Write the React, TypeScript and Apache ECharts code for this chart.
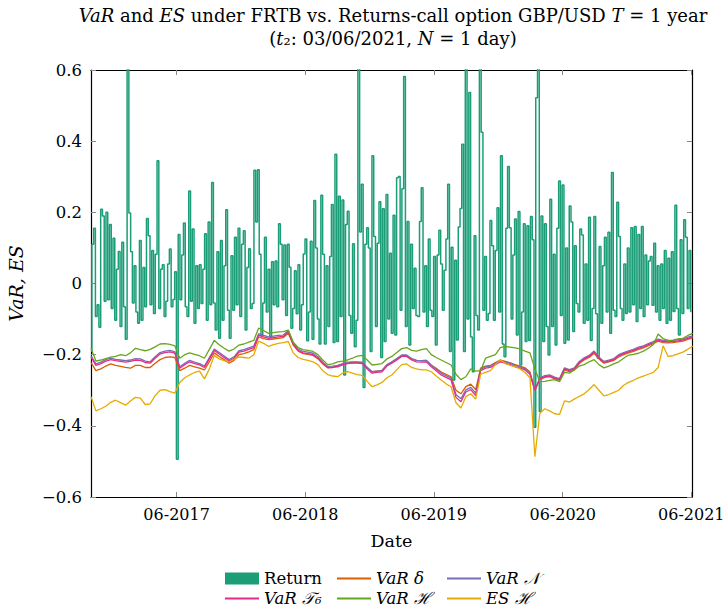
import React, { useEffect, useRef } from 'react';
import * as echarts from 'echarts';

const START = Date.UTC(2016, 9, 1);
const END = Date.UTC(2021, 5, 3);
const DAY = 86400000;
const RETURN_STEP_DAYS = 5;
const VAR_STEP_DAYS = 14;
const TICK_DATES = ['2017-06-01', '2018-06-01', '2019-06-01', '2020-06-01', '2021-06-01'];

const SERIES_NAMES = ['Return', 'VaR δ', 'VaR 𝒩', 'VaR 𝒯₆', 'VaR ℋ', 'ES ℋ'];
const COLORS = ['#1b9e77', '#d95f02', '#7570b3', '#e7298a', '#66a61e', '#e6ab02'];

// daily returns sampled every 5 days
const returns = [
  -0.19, 0.11, 0.155, -0.093, -0.06, -0.123, 0.209, 0.19, -0.05, 0.2,
  -0.046, 0.166, -0.07, 0.127, -0.103, 0.04, 0.09, -0.121, 0.116, -0.065,
  -0.157, 0.65, 0.198, 0.089, -0.055, 0.05, -0.08, -0.112, 0.121, -0.103,
  0.045, -0.065, 0.183, 0.134, -0.06, 0.093, -0.084, 0.082, 0.345, -0.07,
  0.04, 0.053, -0.093, -0.05, 0.055, 0.097, -0.065, -0.045, 0.033, -0.494,
  0.138, -0.046, 0.08, 0.17, -0.065, -0.093, 0.26, -0.05, 0.153, -0.112,
  0.05, -0.07, 0.053, -0.056, 0.04, 0.14, -0.103, 0.173, -0.06, 0.284,
  -0.055, -0.131, 0.089, -0.154, 0.121, -0.103, 0.05, 0.207, -0.075, -0.154,
  0.078, -0.075, 0.13, -0.06, 0.155, -0.093, 0.11, 0.148, -0.131, 0.045,
  0.098, -0.07, -0.056, 0.318, 0.173, 0.32, 0.082, -0.147, -0.055, 0.13,
  -0.08, 0.04, -0.151, 0.061, -0.06, 0.063, -0.065, 0.168, 0.11, -0.046,
  0.108, -0.09, 0.11, 0.046, -0.126, -0.07, 0.036, -0.085, 0.053, -0.131,
  -0.06, 0.083, 0.125, -0.161, -0.08, 0.119, -0.157, 0.233, 0.1, -0.1,
  -0.17, 0.248, 0.082, -0.17, 0.05, -0.121, 0.076, 0.222, -0.166, 0.363,
  -0.163, 0.245, -0.093, 0.235, -0.257, 0.166, 0.203, -0.09, -0.14, 0.112,
  -0.178, -0.103, 0.65, 0.145, 0.279, -0.292, 0.11, 0.157, 0.1, -0.191,
  0.359, 0.132, -0.121, 0.113, 0.23, -0.208, 0.21, -0.163, 0.25, -0.1,
  0.085, -0.14, 0.192, -0.145, 0.297, 0.301, -0.075, 0.266, 0.582, -0.121,
  0.174, -0.173, 0.11, -0.07, 0.043, -0.09, -0.093, 0.174, 0.269, -0.08,
  0.05, -0.121, 0.125, -0.075, -0.093, 0.076, -0.173, 0.08, 0.15, 0.055,
  -0.075, 0.037, 0.125, 0.279, -0.191, 0.102, -0.271, 0.065, -0.159, 0.159,
  0.211, 0.391, -0.191, 0.65, -0.1, 0.537, -0.15, -0.248, 0.134, -0.09,
  -0.131, 0.65, 0.425, -0.075, 0.076, -0.103, -0.084, 0.177, 0.106, -0.103,
  0.093, 0.213, -0.08, 0.359, -0.17, -0.206, 0.155, 0.329, 0.157, -0.1,
  0.08, 0.181, -0.145, 0.202, -0.229, -0.08, 0.168, -0.163, 0.162, -0.16,
  0.188, 0.123, -0.404, 0.522, 0.65, -0.36, 0.19, -0.163, 0.168, -0.121,
  -0.201, 0.237, -0.121, 0.082, -0.173, 0.155, 0.288, -0.09, 0.277, -0.168,
  0.1, -0.159, 0.218, 0.173, -0.135, 0.106, -0.056, -0.08, 0.153, 0.136,
  -0.112, 0.055, -0.103, 0.186, -0.16, -0.07, 0.188, -0.085, -0.21, 0.104,
  -0.112, 0.05, 0.13, -0.08, 0.144, -0.14, 0.312, -0.075, -0.093, 0.228,
  0.132, -0.07, -0.103, 0.055, -0.084, 0.1, -0.08, 0.157, -0.06, 0.16,
  -0.107, 0.138, -0.07, 0.16, -0.093, 0.08, -0.06, 0.063, 0.076, -0.061,
  0.113, -0.08, 0.05, -0.103, 0.055, -0.07, 0.093, -0.112, 0.071, -0.103,
  0.089, -0.079, 0.22, -0.07, -0.145, 0.123, -0.084, 0.179, 0.13, -0.07,
  0.093, -0.079,
];

// risk measures sampled every 14 days
const varDelta = [
  -0.222, -0.245, -0.240, -0.232, -0.226, -0.230, -0.233, -0.236, -0.238, -0.230,
  -0.230, -0.236, -0.236, -0.224, -0.214, -0.208, -0.206, -0.208, -0.245, -0.238,
  -0.230, -0.234, -0.238, -0.243, -0.220, -0.195, -0.205, -0.214, -0.224, -0.216,
  -0.200, -0.197, -0.192, -0.186, -0.150, -0.155, -0.158, -0.156, -0.154, -0.152,
  -0.140, -0.173, -0.190, -0.197, -0.199, -0.202, -0.211, -0.226, -0.236, -0.235,
  -0.232, -0.228, -0.224, -0.222, -0.222, -0.223, -0.236, -0.248, -0.246, -0.244,
  -0.229, -0.221, -0.212, -0.203, -0.203, -0.212, -0.216, -0.217, -0.216, -0.229,
  -0.238, -0.249, -0.255, -0.262, -0.300, -0.310, -0.290, -0.283, -0.298, -0.238,
  -0.232, -0.230, -0.222, -0.215, -0.219, -0.223, -0.228, -0.232, -0.237, -0.249,
  -0.300, -0.270, -0.264, -0.262, -0.268, -0.272, -0.243, -0.248, -0.243, -0.225,
  -0.215, -0.208, -0.196, -0.212, -0.224, -0.220, -0.216, -0.206, -0.200, -0.195,
  -0.191, -0.185, -0.181, -0.175, -0.169, -0.162, -0.166, -0.167, -0.166, -0.164,
  -0.162, -0.157, -0.153,
];

const varNormal = [
  -0.203, -0.226, -0.221, -0.214, -0.210, -0.213, -0.215, -0.217, -0.215, -0.211,
  -0.212, -0.218, -0.220, -0.206, -0.194, -0.190, -0.188, -0.192, -0.234, -0.224,
  -0.216, -0.221, -0.225, -0.232, -0.208, -0.184, -0.194, -0.204, -0.214, -0.206,
  -0.189, -0.186, -0.181, -0.176, -0.141, -0.146, -0.150, -0.148, -0.146, -0.145,
  -0.132, -0.166, -0.184, -0.191, -0.193, -0.196, -0.206, -0.221, -0.233, -0.232,
  -0.230, -0.225, -0.221, -0.220, -0.220, -0.221, -0.236, -0.248, -0.246, -0.244,
  -0.228, -0.220, -0.211, -0.201, -0.201, -0.211, -0.216, -0.217, -0.216, -0.230,
  -0.241, -0.252, -0.259, -0.266, -0.312, -0.324, -0.299, -0.292, -0.308, -0.241,
  -0.234, -0.232, -0.224, -0.216, -0.220, -0.224, -0.230, -0.234, -0.239, -0.251,
  -0.300, -0.265, -0.259, -0.257, -0.263, -0.267, -0.237, -0.242, -0.237, -0.219,
  -0.209, -0.202, -0.190, -0.207, -0.219, -0.215, -0.211, -0.200, -0.194, -0.189,
  -0.185, -0.179, -0.175, -0.169, -0.163, -0.156, -0.160, -0.161, -0.160, -0.158,
  -0.156, -0.151, -0.147,
];

const varT6 = [
  -0.206, -0.230, -0.225, -0.218, -0.214, -0.217, -0.219, -0.221, -0.219, -0.215,
  -0.216, -0.222, -0.224, -0.210, -0.198, -0.194, -0.192, -0.196, -0.238, -0.228,
  -0.220, -0.225, -0.229, -0.236, -0.212, -0.188, -0.198, -0.208, -0.218, -0.210,
  -0.193, -0.190, -0.185, -0.180, -0.145, -0.150, -0.154, -0.152, -0.150, -0.149,
  -0.136, -0.170, -0.188, -0.195, -0.197, -0.200, -0.210, -0.225, -0.237, -0.236,
  -0.234, -0.229, -0.225, -0.224, -0.224, -0.225, -0.240, -0.252, -0.250, -0.248,
  -0.232, -0.224, -0.215, -0.205, -0.205, -0.215, -0.220, -0.221, -0.220, -0.234,
  -0.245, -0.257, -0.264, -0.271, -0.320, -0.332, -0.305, -0.298, -0.315, -0.245,
  -0.238, -0.236, -0.228, -0.220, -0.224, -0.228, -0.234, -0.238, -0.243, -0.255,
  -0.300, -0.268, -0.262, -0.260, -0.266, -0.270, -0.240, -0.245, -0.240, -0.222,
  -0.212, -0.205, -0.193, -0.210, -0.222, -0.218, -0.214, -0.203, -0.197, -0.192,
  -0.188, -0.182, -0.178, -0.172, -0.166, -0.159, -0.163, -0.164, -0.163, -0.161,
  -0.159, -0.154, -0.150,
];

const varHist = [
  -0.182, -0.218, -0.215, -0.211, -0.207, -0.205, -0.200, -0.203, -0.195, -0.182,
  -0.186, -0.189, -0.185, -0.178, -0.170, -0.169, -0.171, -0.175, -0.210, -0.200,
  -0.195, -0.199, -0.203, -0.210, -0.185, -0.160, -0.172, -0.182, -0.190, -0.184,
  -0.173, -0.170, -0.165, -0.160, -0.125, -0.132, -0.140, -0.138, -0.136, -0.135,
  -0.131, -0.165, -0.180, -0.186, -0.188, -0.191, -0.200, -0.215, -0.228, -0.226,
  -0.220, -0.218, -0.215, -0.210, -0.204, -0.202, -0.215, -0.229, -0.227, -0.225,
  -0.212, -0.205, -0.194, -0.183, -0.180, -0.188, -0.190, -0.186, -0.183, -0.200,
  -0.208, -0.215, -0.222, -0.229, -0.255, -0.270, -0.262, -0.240, -0.246, -0.245,
  -0.210, -0.205, -0.200, -0.180, -0.177, -0.179, -0.181, -0.184, -0.190, -0.195,
  -0.240, -0.276, -0.275, -0.272, -0.270, -0.276, -0.250, -0.252, -0.243, -0.232,
  -0.228, -0.220, -0.214, -0.228, -0.237, -0.232, -0.226, -0.220, -0.210, -0.201,
  -0.199, -0.196, -0.190, -0.182, -0.172, -0.142, -0.155, -0.160, -0.159, -0.156,
  -0.154, -0.146, -0.140,
];

const esHist = [
  -0.318, -0.358, -0.352, -0.345, -0.334, -0.328, -0.335, -0.342, -0.330, -0.320,
  -0.322, -0.340, -0.338, -0.315, -0.300, -0.298, -0.304, -0.308, -0.278, -0.265,
  -0.257, -0.250, -0.246, -0.268, -0.240, -0.202, -0.212, -0.217, -0.220, -0.213,
  -0.206, -0.208, -0.210, -0.200, -0.162, -0.168, -0.177, -0.172, -0.168, -0.166,
  -0.163, -0.195, -0.208, -0.213, -0.216, -0.220, -0.228, -0.245, -0.256, -0.260,
  -0.262, -0.252, -0.248, -0.252, -0.256, -0.258, -0.275, -0.290, -0.285, -0.278,
  -0.265, -0.257, -0.242, -0.228, -0.226, -0.236, -0.240, -0.243, -0.243, -0.248,
  -0.260, -0.271, -0.282, -0.290, -0.335, -0.350, -0.318, -0.310, -0.325, -0.255,
  -0.250, -0.245, -0.228, -0.214, -0.225, -0.230, -0.234, -0.240, -0.250, -0.265,
  -0.487, -0.365, -0.352, -0.358, -0.366, -0.368, -0.330, -0.333, -0.325, -0.317,
  -0.310, -0.298, -0.284, -0.300, -0.316, -0.312, -0.306, -0.300, -0.286, -0.278,
  -0.272, -0.265, -0.260, -0.255, -0.250, -0.236, -0.175, -0.205, -0.203, -0.198,
  -0.193, -0.185, -0.176,
];

const FONT = 'DejaVu Serif';

const toSeriesData = (values: number[], stepDays: number) =>
  values.map((v, i) => [START + i * stepDays * DAY, v]);

const tickValues = TICK_DATES.map((d) => Date.parse(d + 'T00:00:00Z'));

const fmtDate = (v: number) => {
  const d = new Date(v);
  const m = d.getUTCMonth() + 1;
  return (m < 10 ? '0' : '') + m + '-' + d.getUTCFullYear();
};

const fmtY = (v: number) => {
  if (Math.abs(v) < 1e-9) return '0';
  return (v < 0 ? '\u2212' : '') + Math.abs(v).toFixed(1);
};

export default function App() {
  const ref = useRef<HTMLDivElement>(null);
  useEffect(() => {
    if (!ref.current) return;
    const chart = echarts.init(ref.current, null, { renderer: 'svg' });
    const lineSets = [varDelta, varNormal, varT6, varHist, esHist];
    const tickStyle = { show: true, inside: true, length: 5, lineStyle: { color: '#888', width: 1 } };
    const axisLine = { show: true, onZero: false, lineStyle: { color: '#000', width: 1.2 } };
    const legendItem = (name: string) =>
      name === 'Return'
        ? { name, icon: 'rect', textStyle: { fontStyle: 'normal' } }
        : {
            name,
            textStyle: { fontStyle: 'italic' },
            itemStyle: { color: 'rgba(0,0,0,0)', borderColor: 'rgba(0,0,0,0)', borderWidth: 0 },
          };
    const legendBase = {
      orient: 'vertical',
      top: 570,
      itemWidth: 34,
      itemHeight: 12,
      itemGap: 3,
      padding: 0,
      textStyle: { fontFamily: FONT, fontSize: 16.5, color: '#000' },
    };
    chart.setOption({
      animation: false,
      backgroundColor: '#fff',
      color: COLORS,
      grid: { left: 91, right: 32, top: 70, bottom: 115, outerBoundsMode: 'none' },
      graphic: [
        {
          type: 'text',
          x: 393,
          y: 4,
          style: {
            text:
              '{i|VaR} and {i|ES} under FRTB vs. Returns-call option GBP/USD {i|T} = 1 year\n({i|t}₂: 03/06/2021, {i|N} = 1 day)',
            align: 'center',
            fontFamily: FONT,
            fontSize: 18,
            lineHeight: 23,
            fill: '#000',
            rich: { i: { fontStyle: 'italic', fontFamily: FONT, fontSize: 18, lineHeight: 23 } },
          },
        },
      ],
      legend: [
        { ...legendBase, left: 224, data: [legendItem(SERIES_NAMES[0]), legendItem(SERIES_NAMES[3])] },
        { ...legendBase, left: 336, data: [legendItem(SERIES_NAMES[1]), legendItem(SERIES_NAMES[4])] },
        { ...legendBase, left: 446, data: [legendItem(SERIES_NAMES[2]), legendItem(SERIES_NAMES[5])] },
      ],
      xAxis: [
        {
          type: 'value',
          min: START,
          max: END,
          position: 'bottom',
          name: 'Date',
          nameLocation: 'middle',
          nameGap: 35,
          nameTextStyle: { fontFamily: FONT, fontSize: 17.5, color: '#000' },
          axisLine,
          axisTick: { ...tickStyle, customValues: tickValues },
          axisLabel: {
            customValues: tickValues,
            formatter: fmtDate,
            fontFamily: FONT,
            fontSize: 16,
            color: '#000',
            margin: 9,
            hideOverlap: false,
            showMinLabel: true,
            showMaxLabel: true,
          },
          splitLine: { show: false },
        },
        {
          type: 'value',
          min: START,
          max: END,
          position: 'top',
          axisLine,
          axisTick: { ...tickStyle, customValues: tickValues },
          axisLabel: { show: false },
          splitLine: { show: false },
        },
      ],
      yAxis: [
        {
          type: 'value',
          min: -0.6,
          max: 0.6,
          interval: 0.2,
          position: 'left',
          name: 'VaR, ES',
          nameLocation: 'middle',
          nameGap: 66,
          nameTextStyle: { fontFamily: FONT, fontSize: 19, fontStyle: 'italic', color: '#000' },
          axisLine,
          axisTick: tickStyle,
          axisLabel: { formatter: fmtY, fontFamily: FONT, fontSize: 16.5, color: '#000', margin: 9 },
          splitLine: { show: false },
        },
        {
          type: 'value',
          min: -0.6,
          max: 0.6,
          interval: 0.2,
          position: 'right',
          axisLine,
          axisTick: tickStyle,
          axisLabel: { show: false },
          splitLine: { show: false },
        },
      ],
      series: [
        {
          name: SERIES_NAMES[0],
          type: 'line',
          step: 'middle',
          data: toSeriesData(returns, RETURN_STEP_DAYS),
          symbol: 'none',
          showSymbol: false,
          clip: true,
          lineStyle: { color: COLORS[0], width: 1.5 },
          itemStyle: { color: COLORS[0] },
        },
        ...lineSets.map((vals, k) => ({
          name: SERIES_NAMES[k + 1],
          type: 'line',
          data: toSeriesData(vals, VAR_STEP_DAYS),
          symbol: 'none',
          showSymbol: false,
          clip: true,
          lineStyle: { color: COLORS[k + 1], width: 1.3 },
          itemStyle: { color: COLORS[k + 1] },
        })),
      ],
    });
    return () => chart.dispose();
  }, []);
  return <div ref={ref} style={{ width: 724, height: 612, position: 'absolute', left: 0, top: 0 }} />;
}
